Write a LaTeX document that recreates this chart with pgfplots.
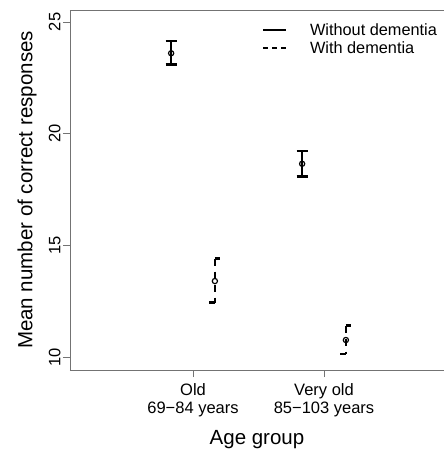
\documentclass[border=0pt]{standalone}
\usepackage{fontspec}
\setmainfont{Liberation Sans}
\usepackage{pgfplots}
\pgfplotsset{compat=1.18}
\definecolor{axgray}{gray}{0.45}

\begin{document}
\begin{tikzpicture}
\useasboundingbox (0,0) rectangle (444pt,449pt);
\begin{axis}[
    at={(70pt,79pt)}, anchor=south west,
    scale only axis, width=374pt, height=360pt,
    xmin=0.061, xmax=2.916, ymin=9.418, ymax=25.537,
    axis x line=box, axis y line=left,
    axis line style={-, axgray, line width=0.9pt},
    xtick={1,2}, xticklabels={{Old\\69−84 years},{Very old\\85−103 years}},
    ytick={10,15,20,25},
    xtick pos=left, ytick pos=left,
    tick align=outside, major tick length=7pt,
    tick style={axgray, line width=0.9pt},
    /pgf/number format/assume math mode=true,
    xticklabel style={align=center, font=\fontsize{16.5}{18.5}\selectfont},
    yticklabel style={rotate=90, anchor=south, yshift=-1pt, font=\fontsize{16.5}{18.5}\selectfont},
    xticklabel shift=3pt,
    xlabel={Age group}, ylabel={Mean number of correct responses},
    label style={font=\fontsize{20.5}{24}\selectfont},
    xlabel style={at={(axis description cs:0.5,-0.193)}, anchor=center},
    ylabel style={at={(axis description cs:-0.115,0.5)}, anchor=center},
    clip=false,
    legend style={draw=none, fill=none, inner sep=0pt,
        at={(axis description cs:0.513,0.961)}, anchor=north west,
        font=\fontsize{16.3}{18}\selectfont,
        nodes={inner sep=0pt, text height=11.5pt, text depth=0pt},
        column sep=23pt, row sep=6.5pt},
    legend cell align=left,
    legend image code/.code={\draw[#1] (0pt,0pt) -- (23pt,0pt);},
]
\addlegendimage{black, line width=2pt}
\addlegendentry{Without dementia}
\addlegendimage{black, line width=2pt, dash pattern=on 5pt off 4pt}
\addlegendentry{With dementia}

% without dementia: solid bars, full caps
\addplot[black, line width=2.2pt, forget plot] coordinates {(0.833,23.10) (0.833,24.15)};
\addplot[black, line width=2.2pt, forget plot] coordinates {(0.791,24.15) (0.875,24.15)};
\addplot[black, line width=2.2pt, forget plot] coordinates {(0.791,23.10) (0.875,23.10)};
\addplot[black, line width=2.2pt, forget plot] coordinates {(1.833,18.08) (1.833,19.23)};
\addplot[black, line width=2.2pt, forget plot] coordinates {(1.791,19.23) (1.875,19.23)};
\addplot[black, line width=2.2pt, forget plot] coordinates {(1.791,18.08) (1.875,18.08)};

% with dementia: dashed bars, half caps
\addplot[black, line width=2.2pt, dash pattern=on 7pt off 6pt, forget plot] coordinates {(1.167,14.41) (1.167,12.44)};
\addplot[black, line width=2.2pt, forget plot] coordinates {(1.167,14.41) (1.209,14.41)};
\addplot[black, line width=2.2pt, forget plot] coordinates {(1.125,12.44) (1.167,12.44)};
\addplot[black, line width=2.2pt, dash pattern=on 7pt off 6pt, forget plot] coordinates {(2.167,11.41) (2.167,10.15)};
\addplot[black, line width=2.2pt, forget plot] coordinates {(2.167,11.41) (2.209,11.41)};
\addplot[black, line width=2.2pt, forget plot] coordinates {(2.125,10.15) (2.167,10.15)};

% means
\addplot[only marks, mark=o, mark size=2.6pt, mark options={black, line width=1.2pt}, forget plot]
    coordinates {(0.833,23.60) (1.833,18.65) (1.167,13.40) (2.167,10.76)};
\end{axis}
\end{tikzpicture}
\end{document}
